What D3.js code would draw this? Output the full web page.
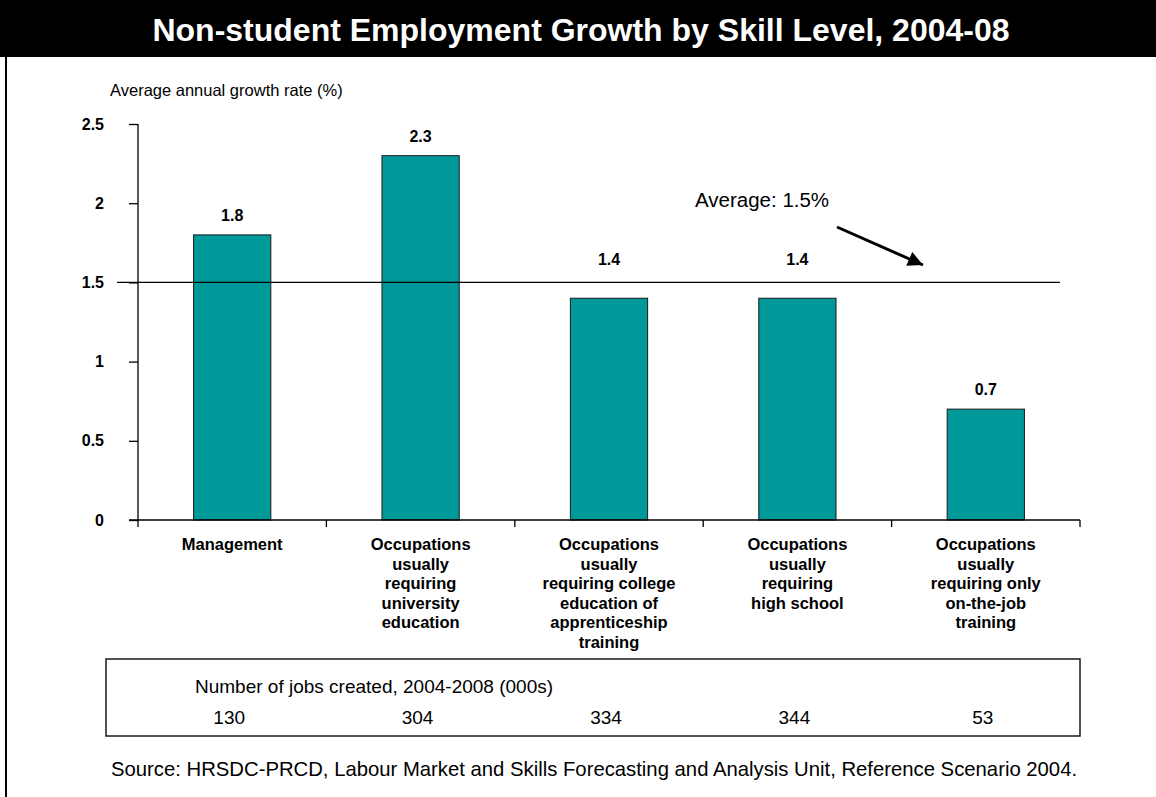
<!DOCTYPE html>
<html>
<head>
<meta charset="utf-8">
<script src="https://cdn.jsdelivr.net/npm/d3@7"></script>
<style>
  html, body { margin: 0; padding: 0; background: #fff; }
  svg { display: block; font-family: "Liberation Sans", Arial, sans-serif; }
</style>
</head>
<body>
<svg id="chart" width="1156" height="797"></svg>
<script>
// Skill-level categories (each entry is one wrapped line of the axis label)
const categories = [
  ["Management"],
  ["Occupations", "usually", "requiring", "university", "education"],
  ["Occupations", "usually", "requiring college", "education of", "apprenticeship", "training"],
  ["Occupations", "usually", "requiring", "high school"],
  ["Occupations", "usually", "requiring only", "on-the-job", "training"]
];
// Average annual growth rate (%), 2004-08
const growthRates = [1.8, 2.3, 1.4, 1.4, 0.7];
// Number of jobs created, 2004-2008 (000s)
const jobsCreated = [130, 304, 334, 344, 53];
// Overall average growth rate (%)
const averageRate = 1.5;
const yTicks = [0, 0.5, 1, 1.5, 2, 2.5];

const svg = d3.select("#chart");
const W = 1156, H = 797;

// Title banner
svg.append("rect").attr("x", 0).attr("y", 0).attr("width", W).attr("height", 57).attr("fill", "#000");
svg.append("text")
  .attr("x", 581).attr("y", 41)
  .attr("text-anchor", "middle")
  .attr("fill", "#fff")
  .attr("font-weight", "bold")
  .attr("font-size", 32)
  .text("Non-student Employment Growth by Skill Level, 2004-08");

// Left frame line
svg.append("line").attr("x1", 6).attr("x2", 6).attr("y1", 57).attr("y2", H)
  .attr("stroke", "#000").attr("stroke-width", 2);

// Plot scales
const plotLeft = 138, plotRight = 1080, plotTop = 124, plotBottom = 520;
const x = d3.scaleBand()
  .domain(d3.range(categories.length))
  .range([plotLeft, plotRight])
  .paddingInner(0.59)
  .paddingOuter(0.295);
const y = d3.scaleLinear().domain([0, 2.5]).range([plotBottom, plotTop]);
const step = x.step();
const cx = i => x(i) + x.bandwidth() / 2;

// Y axis title
svg.append("text")
  .attr("x", 110).attr("y", 96)
  .attr("font-size", 16.5)
  .text("Average annual growth rate (%)");

// Y axis
const yAxis = d3.axisLeft(y).tickValues(yTicks).tickSize(9).tickPadding(25)
  .tickFormat(d3.format(""));
const yG = svg.append("g").attr("transform", `translate(${plotLeft},0)`).call(yAxis);
yG.select(".domain").attr("stroke", "#000").attr("stroke-width", 1.3).attr("d", `M0,${plotTop}V${plotBottom}`);
yG.selectAll(".tick line").attr("stroke", "#000").attr("stroke-width", 1.3);
yG.selectAll(".tick text")
  .attr("font-family", "Liberation Sans, Arial, sans-serif")
  .attr("font-size", 16).attr("font-weight", "bold").attr("fill", "#000");

// Bars
svg.append("g").selectAll("rect")
  .data(growthRates)
  .join("rect")
  .attr("x", (d, i) => x(i))
  .attr("y", d => y(d))
  .attr("width", x.bandwidth())
  .attr("height", d => y(0) - y(d))
  .attr("fill", "#009999")
  .attr("stroke", "#1a1a1a")
  .attr("stroke-width", 1);

// Value labels above bars; a label that would sit on the average line is lifted above it
const avgY = y(averageRate);
const labelBaseline = d => {
  const b = y(d) - 14;
  return (b + 3 > avgY && b - 13 < avgY) ? avgY - 17 : b;
};
svg.append("g").selectAll("text")
  .data(growthRates)
  .join("text")
  .attr("x", (d, i) => cx(i))
  .attr("y", labelBaseline)
  .attr("text-anchor", "middle")
  .attr("font-size", 16).attr("font-weight", "bold")
  .text(d => d3.format(".1f")(d));

// X axis baseline and category dividers
svg.append("line")
  .attr("x1", plotLeft - 9).attr("x2", plotRight)
  .attr("y1", y(0)).attr("y2", y(0))
  .attr("stroke", "#000").attr("stroke-width", 1.3);
svg.append("g").selectAll("line")
  .data(d3.range(categories.length + 1))
  .join("line")
  .attr("x1", i => plotLeft + i * step).attr("x2", i => plotLeft + i * step)
  .attr("y1", y(0)).attr("y2", y(0) + 7)
  .attr("stroke", "#000").attr("stroke-width", 1.3);

// Category labels
const catG = svg.append("g");
categories.forEach((lines, i) => {
  const t = catG.append("text")
    .attr("x", cx(i))
    .attr("y", 550)
    .attr("text-anchor", "middle")
    .attr("font-size", 16.5).attr("font-weight", "bold");
  lines.forEach((ln, j) => {
    t.append("tspan").attr("x", cx(i)).attr("dy", j === 0 ? 0 : 19.5).text(ln);
  });
});

// Average reference line
svg.append("line")
  .attr("x1", plotLeft - 21).attr("x2", 1060)
  .attr("y1", avgY).attr("y2", avgY)
  .attr("stroke", "#000").attr("stroke-width", 1.3);

// Average annotation with arrow
svg.append("defs").append("marker")
  .attr("id", "arrowhead")
  .attr("viewBox", "0 0 10 10")
  .attr("refX", 10).attr("refY", 5)
  .attr("markerWidth", 7).attr("markerHeight", 5)
  .attr("markerUnits", "strokeWidth")
  .attr("orient", "auto")
  .append("path").attr("d", "M0,0L10,5L0,10Z").attr("fill", "#000");
svg.append("text")
  .attr("x", 695).attr("y", 207)
  .attr("font-size", 20.5)
  .text(`Average: ${averageRate}%`);
svg.append("line")
  .attr("x1", 837).attr("y1", 227)
  .attr("x2", 923).attr("y2", 265)
  .attr("stroke", "#000").attr("stroke-width", 3)
  .attr("marker-end", "url(#arrowhead)");

// Jobs created table
svg.append("rect")
  .attr("x", 106).attr("y", 659)
  .attr("width", plotRight - 106).attr("height", 77)
  .attr("fill", "none").attr("stroke", "#1a1a1a").attr("stroke-width", 1.5);
svg.append("text")
  .attr("x", 195).attr("y", 693)
  .attr("font-size", 19)
  .text("Number of jobs created, 2004-2008 (000s)");
svg.append("g").selectAll("text")
  .data(jobsCreated)
  .join("text")
  .attr("x", (d, i) => cx(i) - 3)
  .attr("y", 724)
  .attr("text-anchor", "middle")
  .attr("font-size", 19)
  .text(d => d);

// Source note
svg.append("text")
  .attr("x", 111).attr("y", 776)
  .attr("font-size", 20.3)
  .text("Source: HRSDC-PRCD, Labour Market and Skills Forecasting and Analysis Unit, Reference Scenario 2004.");
</script>
</body>
</html>
